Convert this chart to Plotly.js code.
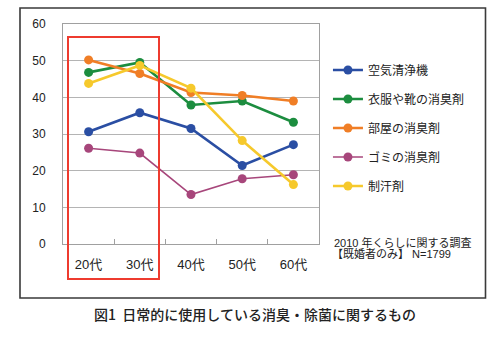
<!DOCTYPE html>
<html><head><meta charset="utf-8">
<script src="https://cdn.plot.ly/plotly-3.0.1.min.js"></script>
<style>html,body{margin:0;padding:0;background:#fff;}</style>
</head><body>
<div id="chart" style="width:500px;height:338px;"></div>
<script>
const categories = ["20代", "30代", "40代", "50代", "60代"];
const seriesNames = ["空気清浄機", "衣服や靴の消臭剤", "部屋の消臭剤", "ゴミの消臭剤", "制汗剤"];
const airPurifier = [30.6, 35.8, 31.5, 21.4, 27.1];
const clothesShoes = [46.8, 49.5, 37.9, 39.0, 33.2];
const roomDeodorizer = [50.2, 46.5, 41.3, 40.5, 39.0];
const garbageDeodorizer = [26.1, 24.8, 13.5, 17.8, 18.9];
const antiperspirant = [43.8, 48.7, 42.5, 28.2, 16.2];
const yTicks = [0, 10, 20, 30, 40, 50, 60];
const noteLines = ["2010 年くらしに関する調査", "【既婚者のみ】 N=1799"];
const figTitle = "図1&nbsp;&nbsp;日常的に使用している消臭・除菌に関するもの";

const colors = ["#2a4ea3", "#1c8d3f", "#f07e26", "#a7467b", "#f6c92c"];
const widths = [2.6, 2.6, 2.6, 1.6, 2.6];
const allValues = [airPurifier, clothesShoes, roomDeodorizer, garbageDeodorizer, antiperspirant];

const FONT = "Liberation Sans, Arial, Noto Sans CJK JP, sans-serif";
const traces = allValues.map((vals, i) => ({
  type: "scatter", mode: "lines+markers",
  x: categories, y: vals, name: seriesNames[i],
  legendgroup: "g" + i,
  line: {color: colors[i], width: widths[i]},
  marker: {color: colors[i], size: 9}
}));

const layout = {
  width: 500, height: 338,
  margin: {l: 63, r: 181, t: 24, b: 94},
  paper_bgcolor: "#fff", plot_bgcolor: "#fff",
  font: {family: FONT, color: "#222", size: 12},
  showlegend: true,
  legend: {x: 1.035, y: 0.857, xanchor: "left", yanchor: "top",
    traceorder: "grouped", tracegroupgap: 10, itemwidth: 30,
    font: {size: 12, family: "Noto Sans CJK JP, sans-serif", color: "#222"},
    bgcolor: "rgba(0,0,0,0)"},
  xaxis: {type: "category", range: [-0.5, 4.5], showgrid: false,
    showline: true, linecolor: "#a0a0a0", linewidth: 1, mirror: true,
    ticks: "inside", tickson: "boundaries", ticklen: 5, tickcolor: "#a0a0a0",
    ticklabelstandoff: 8,
    tickfont: {size: 13, family: FONT, color: "#222"}, fixedrange: true},
  yaxis: {range: [0, 60], tickvals: yTicks, showgrid: true, gridcolor: "#b4b4b4",
    showline: true, linecolor: "#a0a0a0", linewidth: 1, mirror: true,
    zeroline: false, ticks: "", ticklabelstandoff: 14,
    tickfont: {size: 12, family: FONT, color: "#222"}, fixedrange: true},
  title: {text: figTitle, x: 0.51, xanchor: "center",
    y: 1 - 315/338, yanchor: "middle", yref: "container",
    font: {size: 14, weight: 500, family: "Noto Sans CJK JP, sans-serif", color: "#222"}},
  shapes: [
    {type: "rect", xref: "paper", yref: "paper",
      x0: (20-63)/256, x1: (485.5-63)/256, y0: (244-298)/220, y1: (244-8)/220,
      line: {color: "#3a3a3a", width: 1.6}, fillcolor: "rgba(0,0,0,0)"},
    {type: "rect", xref: "paper", yref: "paper",
      x0: (68-63)/256, x1: (159-63)/256, y0: (244-279)/220, y1: (244-37)/220,
      line: {color: "#ee3b2f", width: 2}, fillcolor: "rgba(0,0,0,0)"}
  ],
  annotations: [
    {xref: "paper", yref: "paper", x: (332-63)/256, y: (244-242)/220,
      xanchor: "left", yanchor: "middle", showarrow: false, text: noteLines[0],
      font: {size: 11, family: FONT, color: "#222"}},
    {xref: "paper", yref: "paper", x: (330-63)/256, y: (244-253)/220,
      xanchor: "left", yanchor: "middle", showarrow: false, text: noteLines[1],
      font: {size: 11, family: FONT, color: "#222"}}
  ]
};
Plotly.newPlot("chart", traces, layout, {displayModeBar: false, staticPlot: true});
</script>
</body></html>
